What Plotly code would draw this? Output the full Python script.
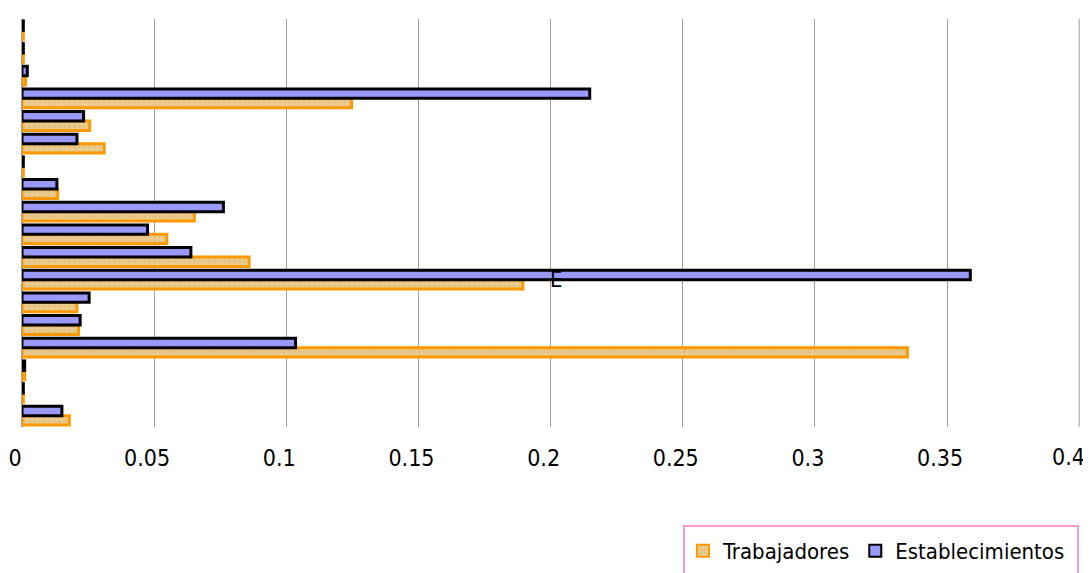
import plotly.graph_objects as go

categories = [f"C{i}" for i in range(1, 19)]
trabajadores = [0.0005, 0.0005, 0.0013, 0.1247, 0.0256, 0.0311, 0.0005, 0.0135,
                0.0652, 0.0548, 0.0859, 0.1895, 0.0208, 0.0214, 0.3350, 0.0010,
                0.0005, 0.0179]
establecimientos = [0.0005, 0.0005, 0.0020, 0.2148, 0.0233, 0.0208, 0.0005, 0.0132,
                    0.0762, 0.0475, 0.0639, 0.3588, 0.0254, 0.0220, 0.1035, 0.0010,
                    0.0005, 0.0151]
tick_vals = [0, 0.05, 0.1, 0.15, 0.2, 0.25, 0.3, 0.35, 0.4]
tick_text = ["0", "0.05", "0.1", "0.15", "0.2", "0.25", "0.3", "0.35", "0.4"]

FONT = "Liberation Sans Narrow, Arial Narrow, DejaVu Sans Condensed, Roboto, sans-serif"

# the page body offsets the figure by 8px, so the figure is sized to compensate
W, H = 1083, 565
L, R, T, B = 14, 11, 11, 146
PW, PH = W - L - R, H - T - B


def px_x(p):
    return (p - L) / PW


def px_y(p):
    return (H - B - p) / PH


fig = go.Figure()
fig.add_trace(go.Bar(
    y=categories, x=trabajadores, orientation="h", name="Trabajadores",
    marker=dict(color="#EBCB8F", line=dict(color="#FF9900", width=3),
                pattern=dict(shape=".", fgcolor="#D8B368", size=5, solidity=0.25)),
))
fig.add_trace(go.Bar(
    y=categories, x=establecimientos, orientation="h", name="Establecimientos",
    marker=dict(color="#9999FF", line=dict(color="#000000", width=3)),
))

fig.add_annotation(x=0.2023, y=categories[11], text="E", showarrow=False,
                   font=dict(family=FONT, size=22, color="#000000"))

# last tick label, pulled inside the page like the original
fig.add_annotation(x=tick_vals[-1], xref="x", y=px_y(449), yref="paper",
                   text=tick_text[-1], showarrow=False, xanchor="right", xshift=8,
                   yanchor="middle", font=dict(family=FONT, size=23, color="#000000"))

# legend frame (extends below the page like the original)
fig.add_shape(type="rect", xref="paper", yref="paper",
              x0=px_x(676), x1=px_x(1070), y0=px_y(620), y1=px_y(518),
              line=dict(color="#FF99CC", width=2), fillcolor="rgba(0,0,0,0)",
              layer="above")

fig.update_layout(
    width=W, height=H,
    margin=dict(l=L, r=R, t=T, b=B, autoexpand=False),
    paper_bgcolor="white", plot_bgcolor="white",
    barmode="group", bargap=0.17, bargroupgap=0.0,
    font=dict(family=FONT, size=23, color="#000000"),
    xaxis=dict(range=[0, 0.4003], tickvals=tick_vals[:-1], ticktext=tick_text[:-1],
               showgrid=True, gridcolor="#A0A0A0", gridwidth=1,
               zeroline=True, zerolinecolor="#A0A0A0", zerolinewidth=2,
               ticks="", tickfont=dict(family=FONT, size=23), ticklabelstandoff=15,
               ticklabelshift=-7, automargin=False, showline=False),
    yaxis=dict(categoryorder="array", categoryarray=categories[::-1],
               showticklabels=False, showgrid=False, ticks="", automargin=False),
    legend=dict(orientation="h", x=px_x(675), xanchor="left", y=px_y(543), yanchor="middle",
                borderwidth=0, bgcolor="rgba(0,0,0,0)",
                font=dict(family=FONT, size=22), traceorder="normal",
                itemsizing="constant", itemwidth=30),
    showlegend=True,
)

# gridline at 0.4 (edge of the value axis)
fig.add_shape(type="line", xref="x", yref="paper", x0=tick_vals[-1], x1=tick_vals[-1],
              y0=0, y1=1, line=dict(color="#A0A0A0", width=1), layer="below")

fig.write_html("out.html")
